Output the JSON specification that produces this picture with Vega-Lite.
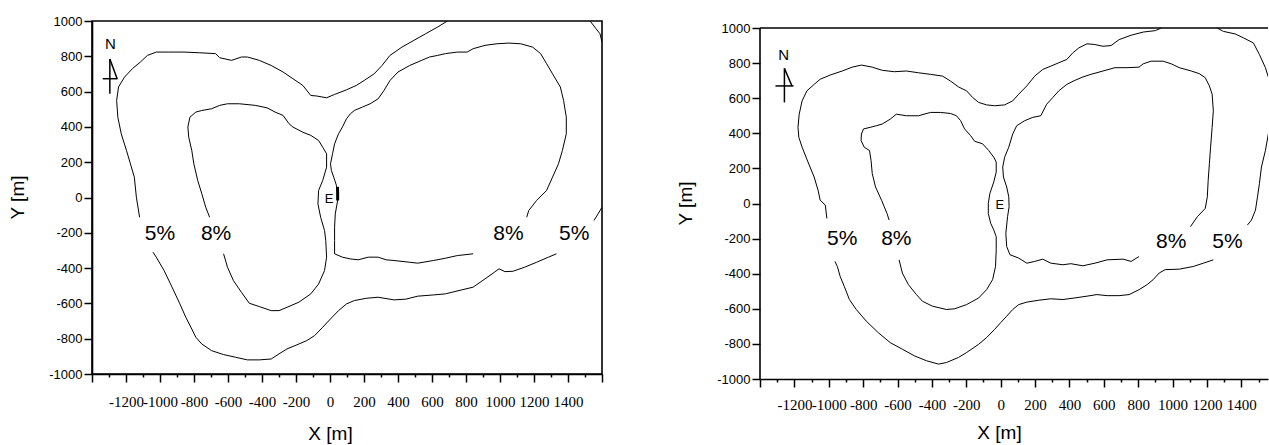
{
  "$schema": "https://vega.github.io/schema/vega-lite/v6.json",
  "padding": {"left": 7, "top": 14, "right": 0, "bottom": 0},
  "spacing": 72,
  "columns": 2,
  "config": {
    "view": {"stroke": "black", "strokeWidth": 1.6},
    "axis": {"grid": false, "domainColor": "black", "domainWidth": 1.6, "tickColor": "black", "tickWidth": 1.5, "labelColor": "black", "titleColor": "black", "titleFont": "Liberation Sans", "titleFontWeight": "normal", "titleFontSize": 19, "labelFont": "Liberation Sans", "labelFontSize": 13},
    "line": {"color": "black", "strokeWidth": 1},
    "text": {"color": "black", "font": "Liberation Sans"}
  },
  "datasets": {
    "contL": [
      {"s":"5a","x":-1120,"y":-112},{"s":"5a","x":-1139,"y":2},{"s":"5a","x":-1151,"y":115},{"s":"5a","x":-1174,"y":191},{"s":"5a","x":-1197,"y":266},{"s":"5a","x":-1228,"y":361},{"s":"5a","x":-1248,"y":455},{"s":"5a","x":-1255,"y":550},{"s":"5a","x":-1244,"y":626},{"s":"5a","x":-1209,"y":682},{"s":"5a","x":-1162,"y":730},{"s":"5a","x":-1116,"y":767},{"s":"5a","x":-1074,"y":805},{"s":"5a","x":-1022,"y":824},{"s":"5a","x":-952,"y":824},{"s":"5a","x":-859,"y":824},{"s":"5a","x":-766,"y":820},{"s":"5a","x":-673,"y":815},{"s":"5a","x":-649,"y":792},{"s":"5a","x":-579,"y":777},{"s":"5a","x":-521,"y":796},{"s":"5a","x":-486,"y":796},{"s":"5a","x":-416,"y":777},{"s":"5a","x":-346,"y":748},{"s":"5a","x":-276,"y":711},{"s":"5a","x":-218,"y":673},{"s":"5a","x":-160,"y":635},{"s":"5a","x":-113,"y":578},{"s":"5a","x":-78,"y":575},{"s":"5a","x":-20,"y":565},{"s":"5a","x":27,"y":584},{"s":"5a","x":97,"y":610},{"s":"5a","x":155,"y":635},{"s":"5a","x":201,"y":663},{"s":"5a","x":260,"y":701},{"s":"5a","x":306,"y":748},{"s":"5a","x":353,"y":805},{"s":"5a","x":423,"y":852},{"s":"5a","x":493,"y":890},{"s":"5a","x":563,"y":928},{"s":"5a","x":633,"y":966},{"s":"5a","x":691,"y":1000},
      {"s":"5b","x":1530,"y":1000},{"s":"5b","x":1565,"y":956},{"s":"5b","x":1588,"y":928},{"s":"5b","x":1600,"y":881},
      {"s":"5c","x":1600,"y":-55},{"s":"5c","x":1577,"y":-93},{"s":"5c","x":1553,"y":-130},
      {"s":"5d","x":1332,"y":-319},{"s":"5d","x":1285,"y":-338},{"s":"5d","x":1215,"y":-367},{"s":"5d","x":1145,"y":-395},{"s":"5d","x":1076,"y":-418},{"s":"5d","x":1029,"y":-420},{"s":"5d","x":994,"y":-404},{"s":"5d","x":959,"y":-429},{"s":"5d","x":912,"y":-461},{"s":"5d","x":842,"y":-508},{"s":"5d","x":772,"y":-524},{"s":"5d","x":679,"y":-546},{"s":"5d","x":609,"y":-552},{"s":"5d","x":516,"y":-559},{"s":"5d","x":446,"y":-576},{"s":"5d","x":376,"y":-580},{"s":"5d","x":283,"y":-565},{"s":"5d","x":213,"y":-571},{"s":"5d","x":143,"y":-584},{"s":"5d","x":97,"y":-603},{"s":"5d","x":50,"y":-641},{"s":"5d","x":3,"y":-688},{"s":"5d","x":-43,"y":-735},{"s":"5d","x":-90,"y":-782},{"s":"5d","x":-137,"y":-811},{"s":"5d","x":-183,"y":-830},{"s":"5d","x":-253,"y":-858},{"s":"5d","x":-300,"y":-886},{"s":"5d","x":-346,"y":-915},{"s":"5d","x":-416,"y":-920},{"s":"5d","x":-486,"y":-920},{"s":"5d","x":-556,"y":-905},{"s":"5d","x":-626,"y":-890},{"s":"5d","x":-696,"y":-868},{"s":"5d","x":-754,"y":-830},{"s":"5d","x":-789,"y":-792},{"s":"5d","x":-813,"y":-745},{"s":"5d","x":-848,"y":-679},{"s":"5d","x":-883,"y":-603},{"s":"5d","x":-929,"y":-508},{"s":"5d","x":-976,"y":-414},{"s":"5d","x":-1022,"y":-338},{"s":"5d","x":-1041,"y":-310},
      {"s":"8a","x":-626,"y":-319},{"s":"8a","x":-603,"y":-395},{"s":"8a","x":-568,"y":-471},{"s":"8a","x":-521,"y":-537},{"s":"8a","x":-475,"y":-599},{"s":"8a","x":-416,"y":-618},{"s":"8a","x":-346,"y":-641},{"s":"8a","x":-300,"y":-641},{"s":"8a","x":-253,"y":-622},{"s":"8a","x":-183,"y":-593},{"s":"8a","x":-113,"y":-546},{"s":"8a","x":-67,"y":-490},{"s":"8a","x":-32,"y":-414},{"s":"8a","x":-20,"y":-338},{"s":"8a","x":-25,"y":-244},{"s":"8a","x":-32,"y":-187},{"s":"8a","x":-55,"y":-112},{"s":"8a","x":-71,"y":-36},{"s":"8a","x":-67,"y":40},{"s":"8a","x":-43,"y":96},{"s":"8a","x":-20,"y":172},{"s":"8a","x":-20,"y":248},{"s":"8a","x":-43,"y":285},{"s":"8a","x":-67,"y":323},{"s":"8a","x":-113,"y":352},{"s":"8a","x":-160,"y":370},{"s":"8a","x":-218,"y":399},{"s":"8a","x":-241,"y":418},{"s":"8a","x":-276,"y":465},{"s":"8a","x":-323,"y":484},{"s":"8a","x":-370,"y":508},{"s":"8a","x":-440,"y":522},{"s":"8a","x":-533,"y":531},{"s":"8a","x":-603,"y":531},{"s":"8a","x":-649,"y":522},{"s":"8a","x":-696,"y":503},{"s":"8a","x":-754,"y":493},{"s":"8a","x":-789,"y":484},{"s":"8a","x":-824,"y":455},{"s":"8a","x":-836,"y":399},{"s":"8a","x":-831,"y":342},{"s":"8a","x":-813,"y":266},{"s":"8a","x":-801,"y":191},{"s":"8a","x":-778,"y":96},{"s":"8a","x":-754,"y":21},{"s":"8a","x":-731,"y":-55},{"s":"8a","x":-708,"y":-112},
      {"s":"8b","x":1157,"y":-112},{"s":"8b","x":1169,"y":-74},{"s":"8b","x":1215,"y":-17},{"s":"8b","x":1274,"y":40},{"s":"8b","x":1309,"y":115},{"s":"8b","x":1344,"y":191},{"s":"8b","x":1367,"y":266},{"s":"8b","x":1390,"y":361},{"s":"8b","x":1390,"y":455},{"s":"8b","x":1374,"y":550},{"s":"8b","x":1355,"y":626},{"s":"8b","x":1309,"y":701},{"s":"8b","x":1274,"y":758},{"s":"8b","x":1239,"y":815},{"s":"8b","x":1192,"y":852},{"s":"8b","x":1122,"y":871},{"s":"8b","x":1052,"y":875},{"s":"8b","x":982,"y":871},{"s":"8b","x":912,"y":862},{"s":"8b","x":842,"y":843},{"s":"8b","x":807,"y":824},{"s":"8b","x":749,"y":824},{"s":"8b","x":679,"y":815},{"s":"8b","x":633,"y":805},{"s":"8b","x":586,"y":796},{"s":"8b","x":539,"y":777},{"s":"8b","x":469,"y":748},{"s":"8b","x":400,"y":711},{"s":"8b","x":353,"y":663},{"s":"8b","x":318,"y":607},{"s":"8b","x":283,"y":559},{"s":"8b","x":236,"y":531},{"s":"8b","x":190,"y":512},{"s":"8b","x":143,"y":493},{"s":"8b","x":120,"y":474},{"s":"8b","x":97,"y":446},{"s":"8b","x":73,"y":399},{"s":"8b","x":50,"y":361},{"s":"8b","x":27,"y":304},{"s":"8b","x":15,"y":248},{"s":"8b","x":3,"y":191},{"s":"8b","x":8,"y":153},{"s":"8b","x":22,"y":115},{"s":"8b","x":38,"y":68},{"s":"8b","x":45,"y":21},{"s":"8b","x":45,"y":-17},{"s":"8b","x":31,"y":-93},{"s":"8b","x":27,"y":-168},{"s":"8b","x":27,"y":-244},{"s":"8b","x":27,"y":-319},{"s":"8b","x":73,"y":-338},{"s":"8b","x":120,"y":-348},{"s":"8b","x":166,"y":-353},{"s":"8b","x":225,"y":-338},{"s":"8b","x":283,"y":-338},{"s":"8b","x":330,"y":-353},{"s":"8b","x":376,"y":-357},{"s":"8b","x":469,"y":-367},{"s":"8b","x":516,"y":-372},{"s":"8b","x":609,"y":-357},{"s":"8b","x":679,"y":-344},{"s":"8b","x":749,"y":-329},{"s":"8b","x":842,"y":-319}
    ],
    "boldL": [
      {"s":"bar","x":44,"y":60},{"s":"bar","x":45,"y":21},{"s":"bar","x":45,"y":-17}
    ],
    "contR": [
      {"s":"5a","x":-1011,"y":-85},{"s":"5a","x":-1020,"y":-9},{"s":"5a","x":-1050,"y":19},{"s":"5a","x":-1062,"y":75},{"s":"5a","x":-1085,"y":151},{"s":"5a","x":-1109,"y":208},{"s":"5a","x":-1132,"y":264},{"s":"5a","x":-1155,"y":321},{"s":"5a","x":-1174,"y":377},{"s":"5a","x":-1179,"y":434},{"s":"5a","x":-1172,"y":509},{"s":"5a","x":-1155,"y":585},{"s":"5a","x":-1127,"y":642},{"s":"5a","x":-1085,"y":679},{"s":"5a","x":-1050,"y":708},{"s":"5a","x":-992,"y":732},{"s":"5a","x":-922,"y":755},{"s":"5a","x":-864,"y":777},{"s":"5a","x":-810,"y":789},{"s":"5a","x":-747,"y":777},{"s":"5a","x":-689,"y":759},{"s":"5a","x":-619,"y":751},{"s":"5a","x":-548,"y":755},{"s":"5a","x":-478,"y":745},{"s":"5a","x":-408,"y":736},{"s":"5a","x":-338,"y":726},{"s":"5a","x":-292,"y":698},{"s":"5a","x":-245,"y":664},{"s":"5a","x":-198,"y":642},{"s":"5a","x":-163,"y":604},{"s":"5a","x":-128,"y":576},{"s":"5a","x":-82,"y":562},{"s":"5a","x":-35,"y":557},{"s":"5a","x":23,"y":562},{"s":"5a","x":70,"y":585},{"s":"5a","x":105,"y":623},{"s":"5a","x":152,"y":670},{"s":"5a","x":198,"y":726},{"s":"5a","x":245,"y":764},{"s":"5a","x":292,"y":783},{"s":"5a","x":338,"y":802},{"s":"5a","x":385,"y":821},{"s":"5a","x":420,"y":859},{"s":"5a","x":455,"y":887},{"s":"5a","x":502,"y":910},{"s":"5a","x":548,"y":906},{"s":"5a","x":595,"y":896},{"s":"5a","x":642,"y":900},{"s":"5a","x":689,"y":934},{"s":"5a","x":759,"y":959},{"s":"5a","x":829,"y":977},{"s":"5a","x":899,"y":985},{"s":"5a","x":934,"y":1000},
      {"s":"5b","x":1260,"y":1000},{"s":"5b","x":1295,"y":981},{"s":"5b","x":1365,"y":966},{"s":"5b","x":1412,"y":944},{"s":"5b","x":1470,"y":915},{"s":"5b","x":1505,"y":849},{"s":"5b","x":1540,"y":774},{"s":"5b","x":1564,"y":698},{"s":"5b","x":1580,"y":623},{"s":"5b","x":1587,"y":547},{"s":"5b","x":1571,"y":509},{"s":"5b","x":1566,"y":472},{"s":"5b","x":1557,"y":396},{"s":"5b","x":1540,"y":302},{"s":"5b","x":1517,"y":208},{"s":"5b","x":1505,"y":113},{"s":"5b","x":1494,"y":38},{"s":"5b","x":1482,"y":-38},{"s":"5b","x":1459,"y":-94},{"s":"5b","x":1435,"y":-123},
      {"s":"5d","x":1237,"y":-321},{"s":"5d","x":1179,"y":-340},{"s":"5d","x":1120,"y":-359},{"s":"5d","x":1039,"y":-374},{"s":"5d","x":957,"y":-377},{"s":"5d","x":922,"y":-396},{"s":"5d","x":887,"y":-434},{"s":"5d","x":852,"y":-462},{"s":"5d","x":805,"y":-491},{"s":"5d","x":747,"y":-519},{"s":"5d","x":689,"y":-525},{"s":"5d","x":619,"y":-525},{"s":"5d","x":560,"y":-519},{"s":"5d","x":502,"y":-528},{"s":"5d","x":432,"y":-538},{"s":"5d","x":362,"y":-547},{"s":"5d","x":292,"y":-543},{"s":"5d","x":222,"y":-551},{"s":"5d","x":152,"y":-562},{"s":"5d","x":105,"y":-576},{"s":"5d","x":70,"y":-604},{"s":"5d","x":35,"y":-642},{"s":"5d","x":0,"y":-679},{"s":"5d","x":-35,"y":-717},{"s":"5d","x":-82,"y":-764},{"s":"5d","x":-128,"y":-802},{"s":"5d","x":-198,"y":-849},{"s":"5d","x":-245,"y":-877},{"s":"5d","x":-315,"y":-906},{"s":"5d","x":-362,"y":-915},{"s":"5d","x":-432,"y":-896},{"s":"5d","x":-502,"y":-868},{"s":"5d","x":-572,"y":-830},{"s":"5d","x":-642,"y":-793},{"s":"5d","x":-712,"y":-736},{"s":"5d","x":-782,"y":-670},{"s":"5d","x":-840,"y":-604},{"s":"5d","x":-880,"y":-547},{"s":"5d","x":-910,"y":-472},{"s":"5d","x":-934,"y":-415},{"s":"5d","x":-950,"y":-359},{"s":"5d","x":-964,"y":-330},
      {"s":"8a","x":-591,"y":-321},{"s":"8a","x":-572,"y":-396},{"s":"8a","x":-537,"y":-462},{"s":"8a","x":-490,"y":-519},{"s":"8a","x":-455,"y":-557},{"s":"8a","x":-397,"y":-585},{"s":"8a","x":-315,"y":-604},{"s":"8a","x":-268,"y":-600},{"s":"8a","x":-198,"y":-576},{"s":"8a","x":-128,"y":-538},{"s":"8a","x":-82,"y":-491},{"s":"8a","x":-47,"y":-434},{"s":"8a","x":-30,"y":-359},{"s":"8a","x":-26,"y":-264},{"s":"8a","x":-26,"y":-189},{"s":"8a","x":-40,"y":-151},{"s":"8a","x":-58,"y":-113},{"s":"8a","x":-72,"y":-57},{"s":"8a","x":-72,"y":0},{"s":"8a","x":-63,"y":57},{"s":"8a","x":-40,"y":123},{"s":"8a","x":-26,"y":179},{"s":"8a","x":-26,"y":236},{"s":"8a","x":-40,"y":264},{"s":"8a","x":-70,"y":302},{"s":"8a","x":-105,"y":340},{"s":"8a","x":-152,"y":355},{"s":"8a","x":-175,"y":387},{"s":"8a","x":-210,"y":425},{"s":"8a","x":-233,"y":472},{"s":"8a","x":-257,"y":500},{"s":"8a","x":-292,"y":513},{"s":"8a","x":-350,"y":519},{"s":"8a","x":-408,"y":519},{"s":"8a","x":-478,"y":500},{"s":"8a","x":-548,"y":500},{"s":"8a","x":-607,"y":509},{"s":"8a","x":-642,"y":481},{"s":"8a","x":-689,"y":453},{"s":"8a","x":-724,"y":443},{"s":"8a","x":-759,"y":434},{"s":"8a","x":-798,"y":425},{"s":"8a","x":-810,"y":396},{"s":"8a","x":-812,"y":359},{"s":"8a","x":-794,"y":321},{"s":"8a","x":-763,"y":302},{"s":"8a","x":-754,"y":245},{"s":"8a","x":-747,"y":170},{"s":"8a","x":-728,"y":94},{"s":"8a","x":-693,"y":19},{"s":"8a","x":-677,"y":-19},{"s":"8a","x":-661,"y":-57},{"s":"8a","x":-649,"y":-94},
      {"s":"8b","x":1104,"y":-132},{"s":"8b","x":1144,"y":-75},{"s":"8b","x":1190,"y":-28},{"s":"8b","x":1202,"y":38},{"s":"8b","x":1207,"y":132},{"s":"8b","x":1214,"y":226},{"s":"8b","x":1221,"y":321},{"s":"8b","x":1230,"y":434},{"s":"8b","x":1237,"y":528},{"s":"8b","x":1230,"y":623},{"s":"8b","x":1214,"y":670},{"s":"8b","x":1190,"y":717},{"s":"8b","x":1155,"y":740},{"s":"8b","x":1109,"y":755},{"s":"8b","x":1039,"y":774},{"s":"8b","x":992,"y":796},{"s":"8b","x":945,"y":811},{"s":"8b","x":875,"y":811},{"s":"8b","x":829,"y":796},{"s":"8b","x":805,"y":777},{"s":"8b","x":735,"y":774},{"s":"8b","x":665,"y":774},{"s":"8b","x":595,"y":755},{"s":"8b","x":525,"y":736},{"s":"8b","x":478,"y":721},{"s":"8b","x":432,"y":702},{"s":"8b","x":385,"y":679},{"s":"8b","x":338,"y":642},{"s":"8b","x":303,"y":604},{"s":"8b","x":268,"y":566},{"s":"8b","x":233,"y":500},{"s":"8b","x":187,"y":491},{"s":"8b","x":140,"y":472},{"s":"8b","x":93,"y":443},{"s":"8b","x":70,"y":396},{"s":"8b","x":47,"y":321},{"s":"8b","x":23,"y":264},{"s":"8b","x":12,"y":208},{"s":"8b","x":16,"y":151},{"s":"8b","x":35,"y":94},{"s":"8b","x":47,"y":38},{"s":"8b","x":49,"y":-19},{"s":"8b","x":40,"y":-75},{"s":"8b","x":30,"y":-170},{"s":"8b","x":35,"y":-245},{"s":"8b","x":54,"y":-292},{"s":"8b","x":105,"y":-311},{"s":"8b","x":152,"y":-340},{"s":"8b","x":198,"y":-330},{"s":"8b","x":245,"y":-317},{"s":"8b","x":292,"y":-340},{"s":"8b","x":362,"y":-349},{"s":"8b","x":408,"y":-343},{"s":"8b","x":478,"y":-355},{"s":"8b","x":548,"y":-340},{"s":"8b","x":619,"y":-321},{"s":"8b","x":712,"y":-317},{"s":"8b","x":759,"y":-330},{"s":"8b","x":805,"y":-302}
    ],
    "textL": [
      {"k":"p","t":"5%","x":-1000,"y":-206},{"k":"p","t":"8%","x":-670,"y":-206},{"k":"p","t":"8%","x":1050,"y":-206},{"k":"p","t":"5%","x":1437,"y":-206},
      {"k":"e","t":"E","x":-5,"y":-8},{"k":"n","t":"N","x":-1292,"y":870}
    ],
    "textR": [
      {"k":"p","t":"5%","x":-922,"y":-202},{"k":"p","t":"8%","x":-607,"y":-202},{"k":"p","t":"8%","x":992,"y":-222},{"k":"p","t":"5%","x":1319,"y":-222},
      {"k":"e","t":"E","x":-5,"y":-9},{"k":"n","t":"N","x":-1262,"y":849}
    ],
    "arrowL": [
      {"s":"v","x":-1295,"y":588},{"s":"v","x":-1295,"y":785},
      {"s":"h","x":-1337,"y":673},{"s":"h","x":-1250,"y":673},
      {"s":"t","x":-1295,"y":785},{"s":"t","x":-1252,"y":673}
    ],
    "arrowR": [
      {"s":"v","x":-1258,"y":576},{"s":"v","x":-1258,"y":770},
      {"s":"h","x":-1310,"y":670},{"s":"h","x":-1205,"y":670},
      {"s":"t","x":-1258,"y":770},{"s":"t","x":-1214,"y":670}
    ],
    "frameR": [
      {"s":"top","x":-1400,"y":1000},{"s":"top","x":1555,"y":1000},
      {"s":"left","x":-1400,"y":-1000},{"s":"left","x":-1400,"y":1000}
    ]
  },
  "concat": [
    {
      "width": 510,
      "height": 353,
      "encoding": {
        "x": {"field": "x", "type": "quantitative", "scale": {"domain": [-1400, 1600], "nice": false, "zero": false},
          "axis": {"values": [-1400,-1300,-1200,-1100,-1000,-900,-800,-700,-600,-500,-400,-300,-200,-100,0,100,200,300,400,500,600,700,800,900,1000,1100,1200,1300,1400,1500,1600],
            "labelExpr": "(datum.value % 200 === 0 && datum.value > -1400 && datum.value < 1600) ? '' + datum.value : ''",
            "labelFont": "Liberation Sans Narrow", "labelFontSize": 15, "labelOverlap": false, "labelFlush": false, "labelPadding": 12,
            "tickSize": {"condition": {"test": "datum.value % 200 === 0", "value": 8}, "value": 3},
            "title": "X [m]", "titleX": 238, "titleY": 59, "titleBaseline": "middle", "titleAlign": "center"}},
        "y": {"field": "y", "type": "quantitative", "scale": {"domain": [-1000, 1000], "nice": false, "zero": false},
          "axis": {"values": [-1000,-800,-600,-400,-200,0,200,400,600,800,1000], "labelExpr": "'' + datum.value", "tickSize": 8, "labelPadding": 2, "labelOverlap": false, "labelFlush": false,
            "title": "Y [m]", "titleAngle": 270, "titleX": -75, "titleY": 176, "titleBaseline": "middle", "titleAlign": "center"}}
      },
      "layer": [
        {"data": {"name": "contL"}, "mark": {"type": "line", "clip": true}, "encoding": {"detail": {"field": "s"}, "order": {"value": null}}},
        {"data": {"name": "boldL"}, "mark": {"type": "line", "clip": true, "strokeWidth": 3}, "encoding": {"detail": {"field": "s"}, "order": {"value": null}}},
        {"data": {"name": "arrowL"}, "mark": {"type": "line", "clip": true, "strokeWidth": 1.5}, "encoding": {"detail": {"field": "s"}, "order": {"value": null}}},
        {"data": {"name": "textL"}, "transform": [{"filter": "datum.k === 'p'"}], "mark": {"type": "text", "fontSize": 21}, "encoding": {"text": {"field": "t"}}},
        {"data": {"name": "textL"}, "transform": [{"filter": "datum.k === 'e'"}], "mark": {"type": "text", "fontSize": 13}, "encoding": {"text": {"field": "t"}}},
        {"data": {"name": "textL"}, "transform": [{"filter": "datum.k === 'n'"}], "mark": {"type": "text", "fontSize": 15}, "encoding": {"text": {"field": "t"}}}
      ]
    },
    {
      "width": 508,
      "height": 358,
      "view": {"stroke": null},
      "encoding": {
        "x": {"field": "x", "type": "quantitative", "scale": {"domain": [-1400, 1555], "nice": false, "zero": false},
          "axis": {"values": [-1400,-1300,-1200,-1100,-1000,-900,-800,-700,-600,-500,-400,-300,-200,-100,0,100,200,300,400,500,600,700,800,900,1000,1100,1200,1300,1400,1500],
            "labelExpr": "(datum.value % 200 === 0 && datum.value > -1400 && datum.value < 1600) ? '' + datum.value : ''",
            "labelFont": "Liberation Sans Narrow", "labelFontSize": 15, "labelOverlap": false, "labelFlush": false, "labelPadding": 10,
            "tickSize": {"condition": {"test": "datum.value % 200 === 0", "value": 8}, "value": 3},
            "title": "X [m]", "titleX": 239, "titleY": 53, "titleBaseline": "middle", "titleAlign": "center"}},
        "y": {"field": "y", "type": "quantitative", "scale": {"domain": [-1000, 1040], "nice": false, "zero": false},
          "axis": {"values": [-1000,-800,-600,-400,-200,0,200,400,600,800,1000], "labelExpr": "'' + datum.value", "domain": false, "tickSize": 8, "labelPadding": 2, "labelOverlap": false, "labelFlush": false,
            "title": "Y [m]", "titleAngle": 270, "titleX": -75, "titleY": 182, "titleBaseline": "middle", "titleAlign": "center"}}
      },
      "layer": [
        {"data": {"name": "frameR"}, "mark": {"type": "line", "clip": false, "strokeWidth": 1.6}, "encoding": {"detail": {"field": "s"}, "order": {"value": null}}},
        {"data": {"name": "contR"}, "mark": {"type": "line", "clip": true}, "encoding": {"detail": {"field": "s"}, "order": {"value": null}}},
        {"data": {"name": "arrowR"}, "mark": {"type": "line", "clip": true, "strokeWidth": 1.5}, "encoding": {"detail": {"field": "s"}, "order": {"value": null}}},
        {"data": {"name": "textR"}, "transform": [{"filter": "datum.k === 'p'"}], "mark": {"type": "text", "fontSize": 21}, "encoding": {"text": {"field": "t"}}},
        {"data": {"name": "textR"}, "transform": [{"filter": "datum.k === 'e'"}], "mark": {"type": "text", "fontSize": 13}, "encoding": {"text": {"field": "t"}}},
        {"data": {"name": "textR"}, "transform": [{"filter": "datum.k === 'n'"}], "mark": {"type": "text", "fontSize": 15}, "encoding": {"text": {"field": "t"}}}
      ]
    }
  ]
}
